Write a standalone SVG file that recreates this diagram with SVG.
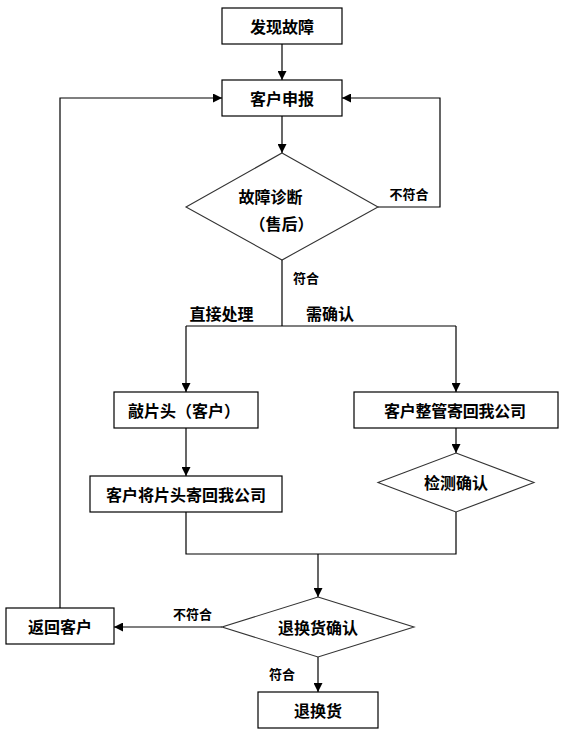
<svg xmlns="http://www.w3.org/2000/svg" width="565" height="741" viewBox="0 0 565 741">
<style>
.box{fill:#fff;stroke:#000;stroke-width:1.2}
.dia{fill:#fff;stroke:#333;stroke-width:1.1}
.t{font-family:"Noto Sans CJK SC","Microsoft YaHei",sans-serif;font-weight:bold;font-size:16px;fill:#000;text-anchor:middle;dominant-baseline:central}
.l{font-size:13px}
.c{fill:none;stroke:#000;stroke-width:1.2}
</style>
<defs>
<marker id="ah" viewBox="0 0 10 10" refX="10" refY="5" markerWidth="9" markerHeight="9" markerUnits="userSpaceOnUse" orient="auto">
<path d="M0,0 L10,5 L0,10 z" fill="#000"/>
</marker>
</defs>
<rect width="565" height="741" fill="#fff"/>
<g id="connectors">
<path class="c" d="M282,44 V80" marker-end="url(#ah)"/>
<path class="c" d="M282,116 V153" marker-end="url(#ah)"/>
<path class="c" d="M378,207 H440 V98 H342" marker-end="url(#ah)"/>
<path class="c" d="M282,260 V326"/>
<path class="c" d="M186,326 H456"/>
<path class="c" d="M186,326 V392" marker-end="url(#ah)"/>
<path class="c" d="M456,326 V392" marker-end="url(#ah)"/>
<path class="c" d="M186,428 V476" marker-end="url(#ah)"/>
<path class="c" d="M456,428 V453" marker-end="url(#ah)"/>
<path class="c" d="M186,512 V554 H456 V512"/>
<path class="c" d="M318,554 V597" marker-end="url(#ah)"/>
<path class="c" d="M222,627 H114" marker-end="url(#ah)"/>
<path class="c" d="M318,657 V692" marker-end="url(#ah)"/>
<path class="c" d="M60,608 V98 H222" marker-end="url(#ah)"/>
<text class="t l" x="409" y="193">不符合</text>
<text class="t l" x="306" y="277">符合</text>
<text class="t" x="221.5" y="313">直接处理</text>
<text class="t" x="330" y="313">需确认</text>
<text class="t l" x="192.5" y="613">不符合</text>
<text class="t l" x="282" y="673">符合</text>
</g>
<g id="n1"><rect class="box" x="222" y="8" width="120" height="36"/><text class="t" x="282" y="26">发现故障</text></g>
<g id="n2"><rect class="box" x="222" y="80" width="120" height="36"/><text class="t" x="282" y="98">客户申报</text></g>
<g id="n3"><polygon class="dia" points="282,153 378,207 282,260 186,207"/><text class="t" x="270.5" y="196">故障诊断</text><text class="t" x="281.5" y="223">（售后）</text></g>
<g id="n4"><rect class="box" x="114" y="392" width="144" height="36"/><text class="t" x="184" y="410">敲片头（客户）</text></g>
<g id="n5"><rect class="box" x="354" y="392" width="204" height="36"/><text class="t" x="455" y="410" textLength="142">客户整管寄回我公司</text></g>
<g id="n6"><rect class="box" x="90" y="476" width="192" height="36"/><text class="t" x="186" y="494" textLength="160">客户将片头寄回我公司</text></g>
<g id="n7"><polygon class="dia" points="456,453 534,482.5 456,512 378,482.5"/><text class="t" x="456" y="482">检测确认</text></g>
<g id="n8"><polygon class="dia" points="318,597 414,627 318,657 222,627"/><text class="t" x="318" y="627">退换货确认</text></g>
<g id="n9"><rect class="box" x="6" y="608" width="108" height="36"/><text class="t" x="60" y="626">返回客户</text></g>
<g id="n10"><rect class="box" x="258" y="692" width="120" height="36"/><text class="t" x="318" y="710">退换货</text></g>
</svg>
